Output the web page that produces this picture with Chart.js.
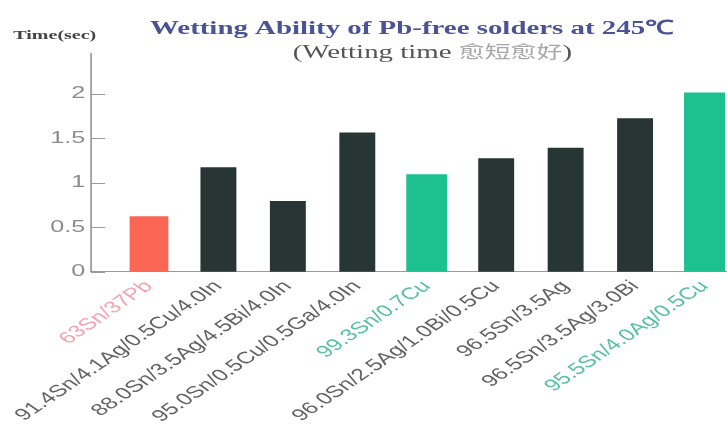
<!DOCTYPE html>
<html lang="en">
<head>
    <meta charset="UTF-8">
    <title>Wetting Ability of Pb-free solders</title>
    <script src="https://cdn.jsdelivr.net/npm/chart.js"></script>
    <style>
        body { margin: 0; background: #fff; overflow: hidden; }
        #wetChart { display: block; }
    </style>
</head>
<body>
    <canvas id="wetChart" width="500" height="430"></canvas>

    <script>
        // data
        const solders = [
            '63Sn/37Pb',
            '91.4Sn/4.1Ag/0.5Cu/4.0In',
            '88.0Sn/3.5Ag/4.5Bi/4.0In',
            '95.0Sn/0.5Cu/0.5Ga/4.0In',
            '99.3Sn/0.7Cu',
            '96.0Sn/2.5Ag/1.0Bi/0.5Cu',
            '96.5Sn/3.5Ag',
            '96.5Sn/3.5Ag/3.0Bi',
            '95.5Sn/4.0Ag/0.5Cu'
        ];
        const wettingTime = [0.62, 1.17, 0.79, 1.56, 1.09, 1.27, 1.39, 1.72, 2.01];
        const solderGroup = ['SnPb', 'PbFree', 'PbFree', 'PbFree', 'Best', 'PbFree', 'PbFree', 'PbFree', 'Best'];
        const yTicks = [0, 0.5, 1, 1.5, 2];

        // the original slide is stretched sideways, so is this one
        const STRETCH = 1.4807;

        const groupStyle = {
            SnPb:   { bar: '#fb6654', label: '#f2a3b2', thick: 25.5 },
            PbFree: { bar: '#273634', label: '#626262', thick: 23.6 },
            Best:   { bar: '#1dc08f', label: '#55bfa5', thick: 27 }
        };

        const datasets = Object.keys(groupStyle).map(g => ({
            label: g,
            data: solders.map((s, i) => ({ x: i, y: wettingTime[i] }))
                         .filter((p, i) => solderGroup[i] === g),
            backgroundColor: groupStyle[g].bar,
            barThickness: groupStyle[g].thick,
            grouped: false
        }));

        function fillParts(ctx, parts, cx, y) {
            let total = 0;
            parts.forEach(p => { ctx.font = p[2]; total += ctx.measureText(p[0]).width; });
            let x = cx - total / 2;
            ctx.textAlign = 'left';
            parts.forEach(p => {
                ctx.font = p[2];
                ctx.fillStyle = p[1];
                ctx.fillText(p[0], x, y);
                x += ctx.measureText(p[0]).width;
            });
        }

        const overlay = {
            id: 'overlay',
            afterDraw(chart) {
                const ctx = chart.ctx;
                const area = chart.chartArea;
                const y = chart.scales.y;
                ctx.save();
                // short tick marks pointing into the plot
                ctx.strokeStyle = '#9a9a9a';
                ctx.lineWidth = 1;
                yTicks.forEach(v => {
                    const py = Math.round(y.getPixelForValue(v)) + 0.5;
                    ctx.beginPath();
                    ctx.moveTo(area.left, py);
                    ctx.lineTo(area.left + 9.5, py);
                    ctx.stroke();
                });

                ctx.textBaseline = 'alphabetic';
                ctx.textAlign = 'center';
                ctx.fillStyle = '#4a5393';
                ctx.font = 'bold 19.5px "Liberation Serif", serif';
                ctx.fillText('Wetting Ability of Pb-free solders at 245\u2103', 278, 34);

                fillParts(ctx, [
                    ['(Wetting time ', '#555', '19.5px "Liberation Serif", serif'],
                    ['愈短愈好', '#a8a8a8', '17.5px "Noto Sans CJK TC", sans-serif'],
                    [')', '#555', '19.5px "Liberation Serif", serif']
                ], 292, 58);

                ctx.textAlign = 'left';
                ctx.fillStyle = '#444';
                ctx.font = 'bold 13.5px "Liberation Serif", serif';
                ctx.fillText('Time(sec)', 9, 39);
                ctx.restore();
            }
        };

        Chart.defaults.font.family = '"Liberation Sans", Arial, sans-serif';

        const canvas = document.getElementById('wetChart');
        const chart = new Chart(canvas, {
            type: 'bar',
            data: { datasets: datasets },
            plugins: [overlay],
            options: {
                responsive: false,
                animation: false,
                layout: { padding: { top: 53.6, right: 0, bottom: 0, left: 0 } },
                plugins: {
                    legend: { display: false },
                    tooltip: { enabled: false }
                },
                scales: {
                    x: {
                        type: 'linear',
                        offset: false,
                        min: -0.834,
                        max: 8.516,
                        afterBuildTicks: s => { s.ticks = solders.map((l, i) => ({ value: i })); },
                        afterFit: s => { s.height = 158.3; },
                        grid: { display: false, drawTicks: false },
                        border: { display: true, color: '#9a9a9a', width: 1 },
                        ticks: {
                            autoSkip: false,
                            minRotation: 45,
                            maxRotation: 45,
                            padding: 5,
                            font: { size: 16.5 },
                            color: c => groupStyle[solderGroup[c.index]].label,
                            callback: v => solders[v]
                        }
                    },
                    y: {
                        min: 0,
                        max: 2.45,
                        afterBuildTicks: s => { s.ticks = yTicks.map(v => ({ value: v })); },
                        afterFit: s => { s.width = 61.5; },
                        grid: { display: false, drawTicks: false },
                        border: { display: true, color: '#8a8a8a', width: 1 },
                        ticks: {
                            padding: 4,
                            color: '#8c8c8c',
                            font: { size: 17 },
                            callback: v => String(v)
                        }
                    }
                }
            }
        });

        // widen the bitmap and redraw the same layout stretched sideways
        canvas.width = 727;
        canvas.style.width = '727px';
        chart.ctx.setTransform(STRETCH, 0, 0, 1, 0, 0);
        chart.draw();
    </script>
</body>
</html>
